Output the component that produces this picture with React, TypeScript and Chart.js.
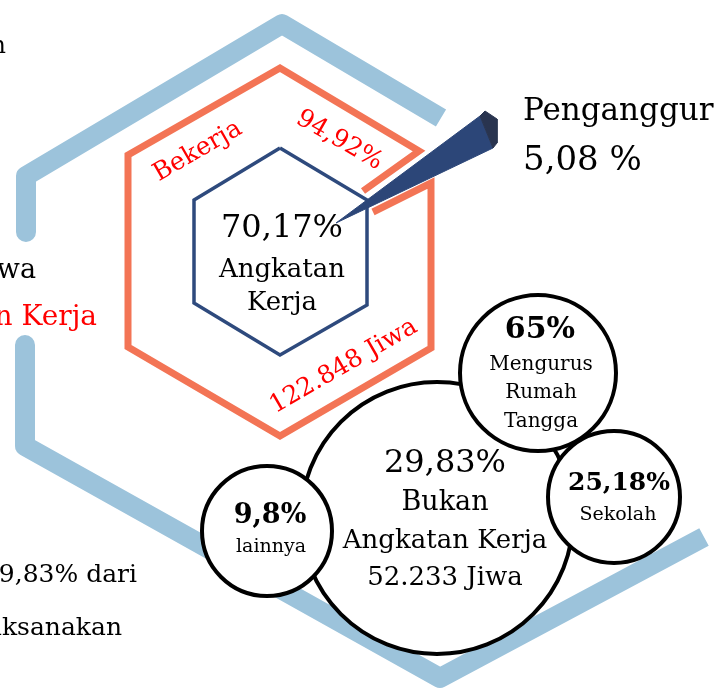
import { useEffect, useRef } from "react";
import { Chart, registerables } from "chart.js";

Chart.register(...registerables);

// ---------- data ----------
const angkatanKerjaPct = 70.17;
const bukanAngkatanKerjaPct = 29.83;
const bekerjaPct = 94.92;
const pengangguranPct = 5.08;
const bekerjaJiwa = "122.848";
const bukanAKJiwa = "52.233";
const bakCategories = ["Mengurus Rumah Tangga", "Sekolah", "lainnya"];
const bakValues = [65, 25.18, 9.8];

// ---------- shape outlines (infographic space, 714 x 693 units) ----------
const outerHexTop = [[441, 118], [282, 24], [26, 176], [26, 232]];
const outerHexBottom = [[25, 345], [25, 446], [440, 678], [704, 537]];
const bekerjaHex = [[363, 191], [419, 151], [280, 68], [128, 155], [128, 347], [280, 436], [431, 348], [431, 183], [373, 212]];
const angkatanHex = [[280, 148], [194, 200], [194, 303], [280, 355], [367, 305], [367, 200], [280, 148]];
const penganggurWedge = [[336, 223], [480, 116], [493, 148], [336, 223]];
const penganggurCap = [[480, 116], [485, 111], [497, 119], [497, 143], [493, 148], [480, 116]];
// bubbles: Bukan AK, Mengurus RT, Sekolah, lainnya
const bubbleX = [437, 538, 614, 267];
const bubbleY = [518, 373, 497, 531];
const bubbleR = [136, 78, 66, 65];

const fmt = (v: number) => String(v).replace(".", ",");

type T = { text: string; x: number; y: number; size: number; bold?: boolean; color?: string; angle?: number; align?: CanvasTextAlign };
const RED = "#ff0000";
const texts: T[] = [
  { text: "dan", x: 6, y: 53, size: 24, align: "right" },
  { text: "Jiwa", x: 36, y: 278, size: 27, align: "right" },
  { text: "Angkatan Kerja", x: 97, y: 325, size: 28, color: RED, align: "right" },
  { text: fmt(bukanAngkatanKerjaPct) + "% dari", x: 137, y: 582, size: 25, align: "right" },
  { text: "dilaksanakan", x: 122, y: 635, size: 25, align: "right" },
  { text: "Bekerja", x: 201, y: 157, size: 25, color: RED, angle: -30 },
  { text: fmt(bekerjaPct) + "%", x: 336, y: 146, size: 25, color: RED, angle: 30 },
  { text: bekerjaJiwa + " Jiwa", x: 347, y: 372, size: 25, color: RED, angle: -30 },
  { text: fmt(angkatanKerjaPct) + "%", x: 282, y: 237, size: 32 },
  { text: "Angkatan", x: 282, y: 277, size: 26 },
  { text: "Kerja", x: 282, y: 310, size: 26 },
  { text: "Penganggur", x: 523, y: 120, size: 31, align: "left" },
  { text: fmt(pengangguranPct) + " %", x: 523, y: 170, size: 34, align: "left" },
  { text: fmt(bakValues[0]) + "%", x: 540, y: 338, size: 30, bold: true },
  { text: "Mengurus", x: 541, y: 370, size: 20 },
  { text: "Rumah", x: 541, y: 398, size: 20 },
  { text: "Tangga", x: 541, y: 427, size: 20 },
  { text: fmt(bukanAngkatanKerjaPct) + "%", x: 445, y: 472, size: 32 },
  { text: "Bukan", x: 445, y: 510, size: 27 },
  { text: "Angkatan Kerja", x: 445, y: 548, size: 26 },
  { text: bukanAKJiwa + " Jiwa", x: 445, y: 585, size: 26 },
  { text: fmt(bakValues[1]) + "%", x: 619, y: 490, size: 25, bold: true },
  { text: bakCategories[1], x: 618, y: 520, size: 19 },
  { text: fmt(bakValues[2]) + "%", x: 270, y: 523, size: 27, bold: true },
  { text: bakCategories[2], x: 271, y: 552, size: 19 },
];

const pts = (a: number[][]) => a.map(([x, y]) => ({ x, y }));

const lineDs = (a: number[][], color: string, width: number, join: CanvasLineJoin = "miter") => ({
  type: "line" as const,
  data: pts(a),
  borderColor: color,
  borderWidth: width,
  borderJoinStyle: join,
  borderCapStyle: "butt" as CanvasLineCap,
  pointRadius: 0,
  pointHoverRadius: 0,
  fill: false,
  tension: 0,
});

const fillDs = (a: number[][], color: string) => ({
  type: "line" as const,
  data: pts(a),
  borderColor: color,
  borderWidth: 1,
  backgroundColor: color,
  pointRadius: 0,
  pointHoverRadius: 0,
  fill: "shape" as const,
  tension: 0,
});

const textPlugin = {
  id: "infoTexts",
  afterDatasetsDraw(chart: any) {
    const { ctx, scales } = chart;
    const xs = scales.x, ys = scales.y;
    for (const t of texts) {
      ctx.save();
      ctx.translate(xs.getPixelForValue(t.x), ys.getPixelForValue(t.y));
      if (t.angle) ctx.rotate((t.angle * Math.PI) / 180);
      ctx.font = `${t.bold ? "bold " : ""}${t.size}px "DejaVu Serif"`;
      ctx.fillStyle = t.color || "#000";
      ctx.textAlign = t.align || "center";
      ctx.textBaseline = "alphabetic";
      ctx.fillText(t.text, 0, 0);
      ctx.restore();
    }
  },
};

export default function App() {
  const ref = useRef<HTMLCanvasElement>(null);
  useEffect(() => {
    if (!ref.current) return;
    const chart = new Chart(ref.current, {
      type: "scatter",
      data: {
        datasets: [
          {
            type: "bubble",
            data: bubbleX.map((x, i) => ({ x, y: bubbleY[i], r: bubbleR[i] })),
            backgroundColor: "#ffffff",
            borderColor: "#000000",
            borderWidth: 4,
            hoverBorderWidth: 4,
            clip: false,
          } as any,
          fillDs(penganggurCap, "#29344f"),
          fillDs(penganggurWedge, "#2c4678"),
          lineDs(angkatanHex, "#2e4a7d", 3.5),
          lineDs(bekerjaHex, "#f37455", 7),
          lineDs(outerHexTop, "#9cc3db", 20, "round"),
          lineDs(outerHexBottom, "#9cc3db", 20, "round"),
        ] as any,
      },
      options: {
        animation: false,
        responsive: false,
        devicePixelRatio: 1,
        events: [],
        layout: { padding: 0, autoPadding: false },
        plugins: { legend: { display: false }, tooltip: { enabled: false } },
        scales: {
          x: { type: "linear", min: 0, max: 714, display: false },
          y: { type: "linear", min: 0, max: 693, reverse: true, display: false },
        },
      },
      plugins: [textPlugin],
    });
    return () => chart.destroy();
  }, []);
  return (
    <canvas
      ref={ref}
      width={714}
      height={693}
      style={{ position: "absolute", left: 0, top: 0, background: "#fff" }}
    />
  );
}
